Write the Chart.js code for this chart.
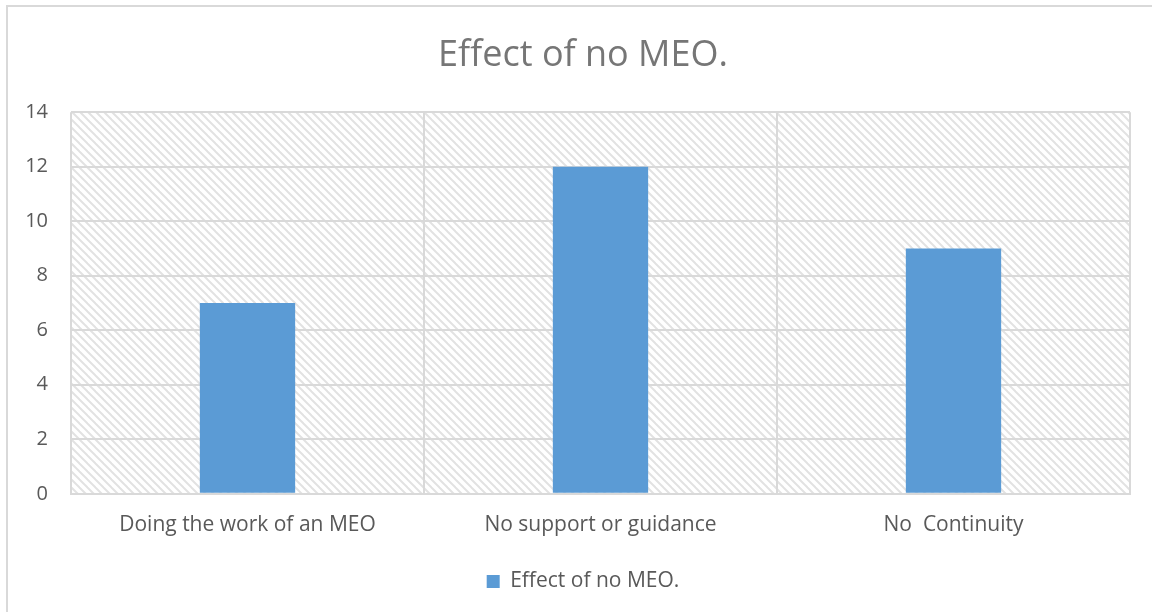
<!DOCTYPE html>
<html>
<head>
<meta charset="utf-8">
<style>
  html, body { margin: 0; padding: 0; background: #ffffff; }
  #wrap { width: 1152px; height: 612px; position: relative; }
  canvas { display: block; }
</style>
<script src="https://cdn.jsdelivr.net/npm/chart.js@4/dist/chart.umd.min.js"></script>
</head>
<body>
<div id="wrap"><canvas id="chart" width="1152" height="612"></canvas></div>
<script>
const chartTitle = 'Effect of no MEO.';
const categories = ['Doing the work of an MEO', 'No support or guidance', 'No  Continuity'];
const seriesName = 'Effect of no MEO.';
const seriesValues = [7, 12, 9];
const yTicks = [0, 2, 4, 6, 8, 10, 12, 14];

const FONT = "'Open Sans', 'DejaVu Sans', sans-serif";
const GRID = '#d9d9d9';

// Diagonal hatch tile for the plot background
function makeHatch() {
  const c = document.createElement('canvas');
  c.width = 8; c.height = 8;
  const g = c.getContext('2d');
  g.fillStyle = '#ffffff';
  g.fillRect(0, 0, 8, 8);
  g.strokeStyle = '#e2e2e2';
  g.lineWidth = 2;
  for (const k of [-8, 0, 8]) {
    g.beginPath();
    g.moveTo(k - 1, -1);
    g.lineTo(k + 9, 9);
    g.stroke();
  }
  return c;
}

const plotBackground = {
  id: 'plotBackground',
  beforeDraw(chart) {
    const { ctx, chartArea: a } = chart;
    ctx.save();
    ctx.fillStyle = ctx.createPattern(makeHatch(), 'repeat');
    ctx.fillRect(a.left, a.top, a.right - a.left, a.bottom - a.top);
    // outer frame (left and top edges)
    ctx.strokeStyle = GRID;
    ctx.lineWidth = 2;
    ctx.beginPath();
    ctx.moveTo(7, chart.height);
    ctx.lineTo(7, 6);
    ctx.lineTo(chart.width, 6);
    ctx.stroke();
    ctx.restore();
  }
};

new Chart(document.getElementById('chart'), {
  type: 'bar',
  data: {
    labels: categories,
    datasets: [{
      label: seriesName,
      data: seriesValues,
      backgroundColor: '#5b9bd5',
      borderWidth: 0,
      barPercentage: 0.27,
      categoryPercentage: 1.0
    }]
  },
  options: {
    responsive: false,
    animation: false,
    devicePixelRatio: 1,
    layout: { padding: { left: 36, right: 22, top: 0, bottom: 10 } },
    plugins: {
      title: {
        display: true,
        text: chartTitle,
        color: '#767676',
        font: { family: FONT, size: 36, weight: 'normal' },
        padding: { top: 34, bottom: 35 }
      },
      legend: {
        position: 'bottom',
        labels: {
          color: '#595959',
          font: { family: FONT, size: 21 },
          boxWidth: 13,
          boxHeight: 13,
          padding: 14
        }
      },
      tooltip: { enabled: false }
    },
    scales: {
      x: {
        grid: { color: GRID, lineWidth: 2, offset: true, drawTicks: false },
        border: { color: GRID, width: 2 },
        ticks: { color: '#595959', font: { family: FONT, size: 21 }, padding: 19, maxRotation: 0 }
      },
      y: {
        min: 0,
        max: 14,
        afterBuildTicks(scale) { scale.ticks = yTicks.map(v => ({ value: v })); },
        afterFit(scale) {
          scale.width = 35;
          // tick labels sit in the left margin, so don't clip them to the axis box
          scale._computeLabelArea = () => undefined;
        },
        grid: { color: GRID, lineWidth: 2, drawTicks: false },
        border: { display: false },
        ticks: { color: '#595959', font: { family: FONT, size: 20 }, padding: 23 }
      }
    }
  },
  plugins: [plotBackground]
});
</script>
</body>
</html>
